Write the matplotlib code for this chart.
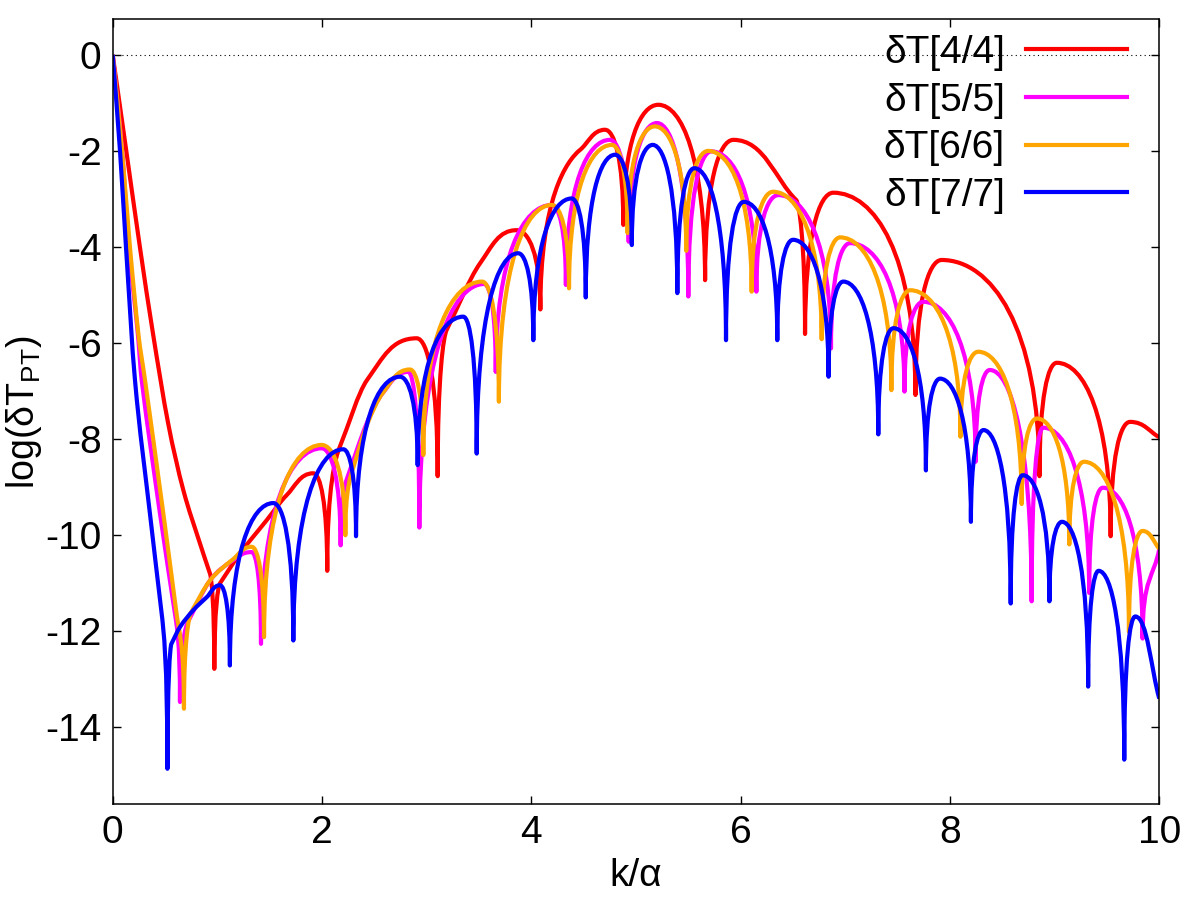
import numpy as np
import matplotlib
matplotlib.use("Agg")
import matplotlib.pyplot as plt
from matplotlib.path import Path
from matplotlib.patches import PathPatch

plt.rcParams['font.family'] = ['Liberation Sans', 'DejaVu Sans']
plt.rcParams['mathtext.fontset'] = 'custom'
plt.rcParams['mathtext.rm'] = 'Liberation Sans'
plt.rcParams['mathtext.it'] = 'Liberation Sans'
plt.rcParams['axes.unicode_minus'] = False

# knots: start, dips, arch peaks and a few shoulder points
x_44 = [0, 0.13, 0.26, 0.385, 0.53, 0.675, 0.834, 0.93, 0.971, 1.025, 1.216, 1.47, 1.66, 1.917,
        2.05, 2.17, 2.43, 2.905, 3.105, 3.19, 3.51, 3.86, 4.086, 4.465, 4.704,
        4.879, 5.213, 5.66, 5.93, 6.53, 6.615, 6.885, 7.67, 7.92, 8.855, 9.02, 9.535,
        9.72, 10.0]
y_44 = [0, -2, -4, -5.8, -7.67, -9.06, -10.17, -10.8, -12.78, -11.0, -10.38, -9.69, -9.17, -8.71,
        -10.74, -8.16, -6.77, -5.9, -8.77, -5.73, -4.34, -3.65, -5.30, -1.98, -1.56,
        -3.54, -1.04, -4.69, -1.77, -3.02, -5.81, -2.87, -7.08, -4.27, -8.77, -6.41, -10.02,
        -7.64, -7.96]

x_55 = [0, 0.09, 0.155, 0.24, 0.277, 0.452, 0.595, 0.643, 0.72, 0.93, 1.15, 1.328, 1.417,
        1.997, 2.178, 2.234, 2.427, 2.58, 2.825, 2.93, 3.55, 3.66, 4.195, 4.33, 4.75, 4.93,
        5.2, 5.5, 5.72, 6.15, 6.36, 6.863, 7.045, 7.565, 7.745, 8.245, 8.38, 8.78, 8.89,
        9.33, 9.46, 9.84, 10.0]
y_55 = [0, -2, -4, -5.8, -6.77, -9.55, -11.63, -13.47, -11.8, -10.94, -10.52, -10.35, -12.26,
        -8.19, -10.21, -8.85, -7.67, -7.04, -6.6, -9.84, -4.77, -6.6, -3.125, -4.79, -1.77, -3.89,
        -1.42, -5.03, -2.01, -4.93, -2.92, -6.11, -3.92, -7.01, -5.14, -8.47, -6.56, -11.375, -7.76,
        -11.2, -9.01, -12.15, -10.28]

x_66 = [0, 0.09, 0.165, 0.245, 0.309, 0.484, 0.61, 0.681, 0.75, 0.93, 1.15, 1.328, 1.446,
        1.997, 2.223, 2.30, 2.43, 2.58, 2.84, 2.968, 3.53, 3.69, 4.195, 4.36, 4.77, 4.92,
        5.18, 5.48, 5.69, 6.105, 6.31, 6.774, 6.95, 7.44, 7.62, 8.10, 8.27, 8.685, 8.83,
        9.14, 9.28, 9.71, 9.84, 10.0]
y_66 = [0, -2, -4, -5.8, -6.77, -9.55, -11.63, -13.61, -11.6, -10.94, -10.5, -10.24, -12.12,
        -8.12, -10.0, -8.58, -7.7, -7.04, -6.55, -8.33, -4.72, -7.22, -3.125, -4.86, -1.875, -3.71,
        -1.49, -4.08, -2.0, -4.93, -2.85, -5.92, -3.80, -6.98, -4.90, -7.95, -6.18, -9.35, -7.57,
        -10.19, -8.47, -12.01, -9.91, -10.28]

x_77 = [0, 0.07, 0.127, 0.213, 0.356, 0.468, 0.523, 0.561, 0.643, 0.77, 0.898, 1.025, 1.12,
        1.535, 1.726, 2.204, 2.325, 2.745, 2.914, 3.35, 3.478, 3.875, 4.019, 4.385, 4.52, 4.80,
        4.96, 5.16, 5.395, 5.557, 5.86, 6.03, 6.35, 6.50, 6.84, 6.98, 7.315, 7.46, 7.77, 7.905,
        8.20, 8.32, 8.58, 8.695, 8.95, 9.07, 9.32, 9.42, 9.665, 9.77, 10.0]
y_77 = [0, -2, -4, -6.77, -9.55, -11.63, -14.86, -12.26, -11.91, -11.56, -11.29, -11.04, -12.71,
        -9.33, -12.19, -8.21, -10.02, -6.70, -8.54, -5.45, -8.30, -4.13, -5.94, -2.99, -5.05, -2.08,
        -3.96, -1.875, -4.96, -2.36, -5.94, -3.06, -5.94, -3.85, -6.70, -4.72, -7.90, -5.69, -8.65,
        -6.74, -9.72, -7.81, -11.42, -8.75, -11.375, -9.72, -13.15, -10.74, -14.67, -11.69, -13.40]

labels = ['δT[4/4]', 'δT[5/5]', 'δT[6/6]', 'δT[7/7]']
colors = ['#ff0000', '#ff00ff', '#ffa500', '#0000ff']
series = [(x_44, y_44), (x_55, y_55), (x_66, y_66), (x_77, y_77)]


def arch_path(xs, ys, k=0.7, s=0.5):
    # smooth curve through the knots: cusp at dips, flat top at peaks
    p = np.column_stack([xs, ys]).astype(float)
    n = len(p)
    kind = []
    for i in range(n):
        if 0 < i < n - 1 and p[i, 1] < p[i - 1, 1] and p[i, 1] < p[i + 1, 1]:
            kind.append('dip')
        elif 0 < i < n - 1 and p[i, 1] > p[i - 1, 1] and p[i, 1] > p[i + 1, 1]:
            kind.append('peak')
        else:
            kind.append('pt')

    def slope(i):
        a, b = max(i - 1, 0), min(i + 1, n - 1)
        # a neighbouring dip would bend the envelope, so skip it
        if kind[a] == 'dip' and b != i:
            a = i
        if kind[b] == 'dip' and a != i:
            b = i
        return (p[b, 1] - p[a, 1]) / (p[b, 0] - p[a, 0])

    def ctrl(i, j):
        w = p[j, 0] - p[i, 0]
        if kind[i] == 'dip':
            return [p[i, 0], p[i, 1] + k * (p[j, 1] - p[i, 1])]
        if kind[i] == 'peak':
            return [p[i, 0] + s * w, p[i, 1]]
        return [p[i, 0] + w / 3, p[i, 1] + slope(i) * w / 3]

    verts = [p[0]]
    codes = [Path.MOVETO]
    for i in range(n - 1):
        verts += [ctrl(i, i + 1), ctrl(i + 1, i), p[i + 1]]
        codes += [Path.CURVE4] * 3
    return Path(verts, codes)


fig = plt.figure(figsize=(12, 9), dpi=100)
ax = fig.add_axes([0.0939, 0.1063, 0.8722, 0.8723])

ax.axhline(0, color='black', lw=0.8, ls=(0, (1, 3)), zorder=1)

for (xs, ys), c, lab in zip(series, colors, labels):
    ax.add_patch(PathPatch(arch_path(xs, ys), fill=False, edgecolor=c, lw=3.0,
                           joinstyle='round', capstyle='butt', zorder=2))
    ax.plot([], [], color=c, lw=3.0, label=lab)

ax.set_xlim(0, 10)
ax.set_ylim(-15.6, 0.74)
ax.set_xticks([0, 2, 4, 6, 8, 10])
ax.set_yticks([0, -2, -4, -6, -8, -10, -12, -14])

ax.tick_params(direction='in', length=6, width=1.0, top=True, right=True,
               labelsize=28, pad=8)
for sp in ax.spines.values():
    sp.set_linewidth(1.1)

ax.set_xlabel('k/α', fontsize=28, labelpad=5)
ax.set_ylabel(r'log(δT$_{\mathrm{PT}}$)', fontsize=27, labelpad=1)

ax.legend(loc='upper right', bbox_to_anchor=(0.9694, 0.98), frameon=False,
          markerfirst=False, fontsize=28, handlelength=2.6, handletextpad=0.55,
          labelspacing=0.3, borderpad=0, borderaxespad=0)

fig.savefig('out.png', dpi=100)
